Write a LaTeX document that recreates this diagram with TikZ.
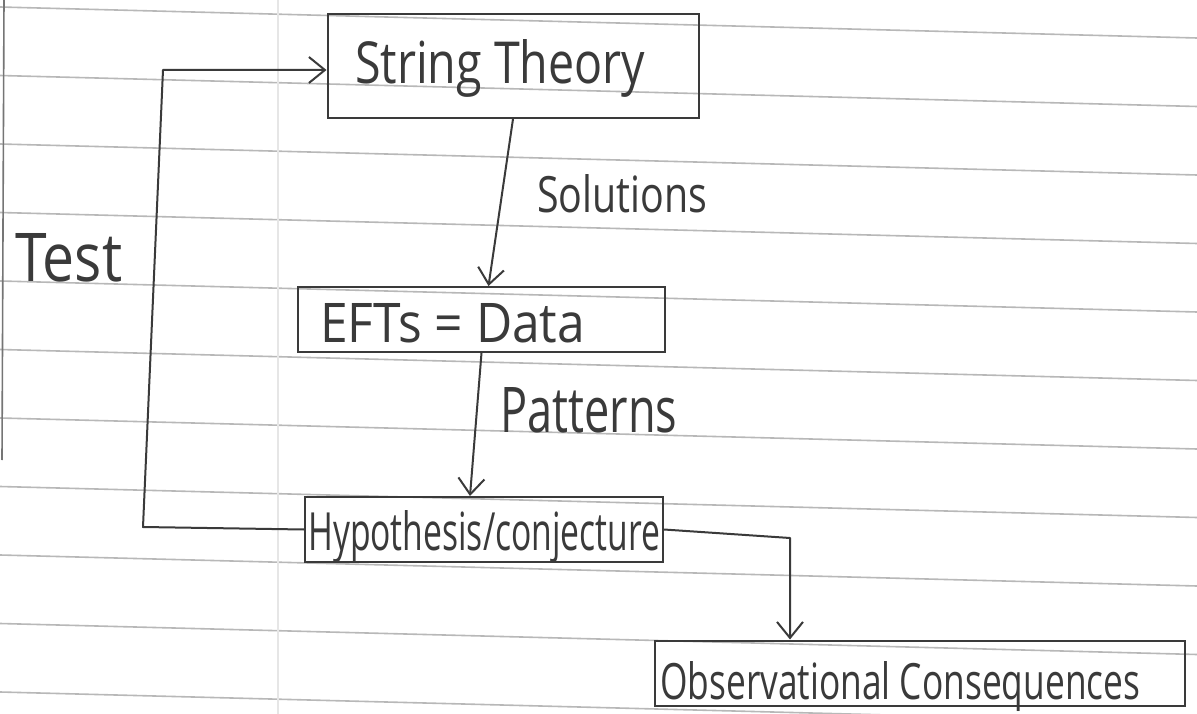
\documentclass[tikz,border=0pt]{standalone}
\usepackage{fontspec}
\setmainfont{Open Sans}
\usetikzlibrary{arrows.meta}
\definecolor{ink}{HTML}{3A3A3A}
\definecolor{rulec}{HTML}{B8B8B8}
\definecolor{marginc}{HTML}{E6E6E6}
\newcommand{\hw}[3]{\resizebox{#1pt}{#2pt}{#3}}
\begin{document}
\begin{tikzpicture}[x=1pt,y=-1pt,
  box/.style={draw=ink, line width=2pt, inner sep=0pt},
  hand/.style={text=ink, inner sep=0pt, anchor=base west},
  conn/.style={draw=ink, line width=2pt, line join=round,
    -{Straight Barb[length=16pt,width=26pt,line width=2pt]}},
  rule/.style={draw=rulec, line width=1.6pt}]
\useasboundingbox (0,0) rectangle (1197,714);
\fill[white] (0,0) rectangle (1197,714);
% notebook ruling
\foreach \k in {0,...,10}{
  \pgfmathsetmacro{\ya}{7+68.5*\k}
  \pgfmathsetmacro{\yb}{\ya+31}
  \draw[rule] (0,\ya) -- (1197,\yb);
}
\draw[draw=marginc, line width=1.2pt] (278,0) -- (278,714);
\draw[draw=ink!70, line width=1.6pt] (4,0) -- (2,460);
% boxes
\node[box, minimum width=371pt, minimum height=104pt] (st) at (513,66) {};
\node[box, minimum width=367pt, minimum height=65pt] (eft) at (481.5,319.5) {};
\node[box, minimum width=358pt, minimum height=65pt] (hyp) at (484,529.5) {};
\node[box, minimum width=530pt, minimum height=65pt] (obs) at (920,673) {};
% texts
\node[hand] (tst) at (355,84) {\hw{290}{44}{String Theory}};
\node[hand] (teft) at (320,342) {\hw{265}{39}{EFTs = Data}};
\node[hand] (thyp) at (308,550) {\hw{352}{40}{Hypothesis/conjecture}};
\node[hand] (tobs) at (660,699) {\hw{480}{38}{Observational Consequences}};
\node[hand] (lsol) at (537,213) {\hw{170}{38}{Solutions}};
\node[hand] (lpat) at (500,432) {\hw{177}{45}{Patterns}};
\node[hand] (ltest) at (15,282) {\hw{107}{48}{Test}};
% connector corners
\coordinate (c1) at (143,527);
\coordinate (c2) at (163,70);
\coordinate (c3) at (790,538);
% connectors
\draw[conn] (st.south) -- ([xshift=7pt]eft.north);
\draw[conn] (eft.south) -- ([xshift=-14pt]hyp.north);
\draw[conn] (hyp.west) -- (c1) -- (c2) -- ([yshift=-4pt]st.west);
\draw[conn] (hyp.east) -- (c3) -- (c3 |- obs.north);
\end{tikzpicture}
\end{document}
